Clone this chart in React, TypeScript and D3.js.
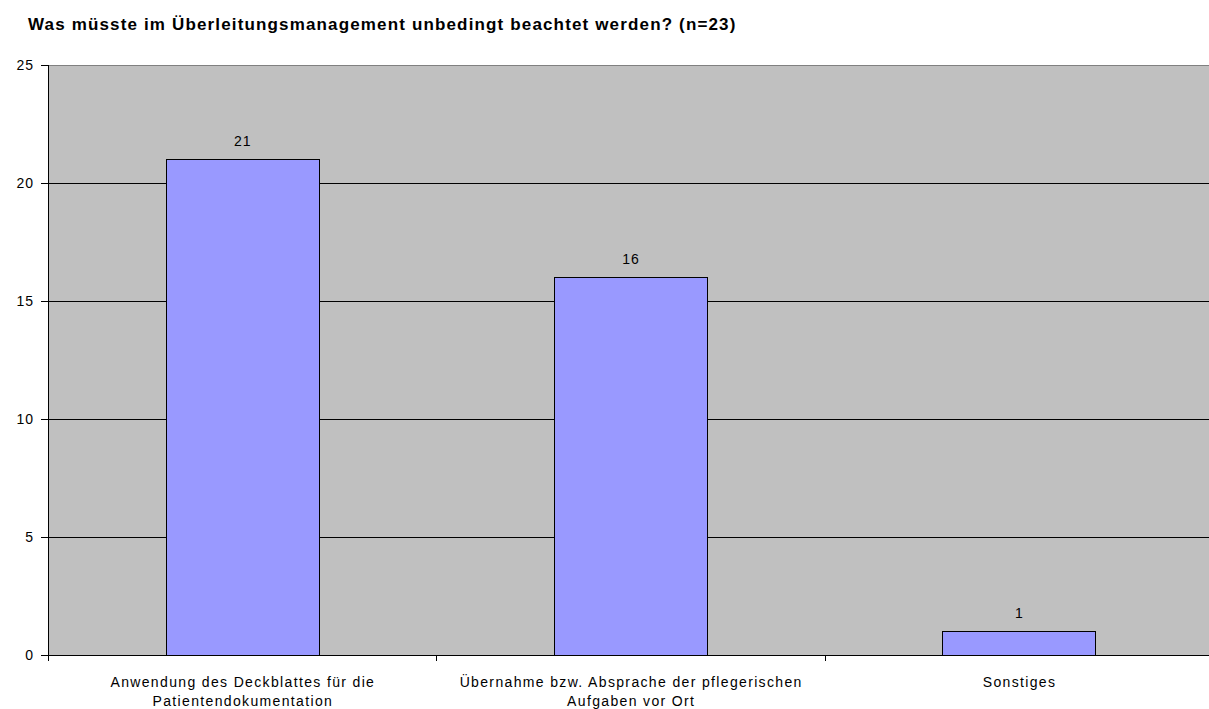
import React from "react";
import * as d3 from "d3";

const title = "Was müsste im Überleitungsmanagement unbedingt beachtet werden? (n=23)";
const categories = [
  ["Anwendung des Deckblattes für die", "Patientendokumentation"],
  ["Übernahme bzw. Absprache der pflegerischen", "Aufgaben vor Ort"],
  ["Sonstiges"],
];
const values = [21, 16, 1];
const yTicks = [0, 5, 10, 15, 20, 25];

const W = 1209;
const H = 709;
const left = 48;
const right = 1213;
const top = 65;
const bottom = 655;
const font = "'Liberation Sans', Arial, sans-serif";

export default function App() {
  const ids = categories.map((_, i) => String(i));
  const x = d3.scaleBand().domain(ids).range([left, right]).paddingInner(0.606).paddingOuter(0.303);
  const y = d3.scaleLinear().domain([0, 25]).range([bottom, top]);
  const step = x.step();
  return (
    <svg width={W} height={H} style={{ position: "absolute", left: 0, top: 0 }} fontFamily={font}>
      <rect x={0} y={0} width={W} height={H} fill="#fff" />
      <text x={28} y={30} fontSize={17} fontWeight="bold" letterSpacing={1.15} fill="#000">{title}</text>
      <rect x={left} y={top} width={right - left} height={bottom - top} fill="#C0C0C0" />
      <line x1={left} x2={right} y1={top + 0.5} y2={top + 0.5} stroke="#808080" />
      {yTicks.filter((t) => t > 0 && t < 25).map((t) => (
        <line key={t} x1={left} x2={right} y1={Math.round(y(t)) + 0.5} y2={Math.round(y(t)) + 0.5} stroke="#000" />
      ))}
      {values.map((v, i) => (
        <g key={i}>
          <rect x={Math.round(x(ids[i])!) + 0.5} y={Math.round(y(v)) + 0.5} width={Math.round(x.bandwidth())} height={Math.round(y(0)) - Math.round(y(v))} fill="#9999FF" stroke="#000" />
          <text x={x(ids[i])! + x.bandwidth() / 2 + 0.5} y={y(v) - 13} fontSize={14} letterSpacing={1} textAnchor="middle" fill="#000">{v}</text>
        </g>
      ))}
      <line x1={left + 0.5} x2={left + 0.5} y1={top} y2={bottom} stroke="#000" />
      <line x1={left} x2={right} y1={bottom + 0.5} y2={bottom + 0.5} stroke="#000" />
      {yTicks.map((t) => (
        <g key={t}>
          <line x1={left - 7} x2={left} y1={Math.round(y(t)) + 0.5} y2={Math.round(y(t)) + 0.5} stroke="#000" />
          <text x={left - 14} y={y(t) + 5} fontSize={14} letterSpacing={1} textAnchor="end" fill="#000">{t}</text>
        </g>
      ))}
      {ids.map((id, i) => (
        <line key={"t" + i} x1={Math.round(x(id)! - x.paddingInner() * step / 2) + 0.5} x2={Math.round(x(id)! - x.paddingInner() * step / 2) + 0.5} y1={bottom} y2={bottom + 6} stroke="#000" />
      ))}
      {categories.map((lines, i) => (
        <text key={"c" + i} x={x(ids[i])! + x.bandwidth() / 2} fontSize={14} letterSpacing={1.35} textAnchor="middle" fill="#000">
          {lines.map((l, j) => (
            <tspan key={j} x={x(ids[i])! + x.bandwidth() / 2 + 0.7} y={687 + j * 18.5}>{l}</tspan>
          ))}
        </text>
      ))}
    </svg>
  );
}
